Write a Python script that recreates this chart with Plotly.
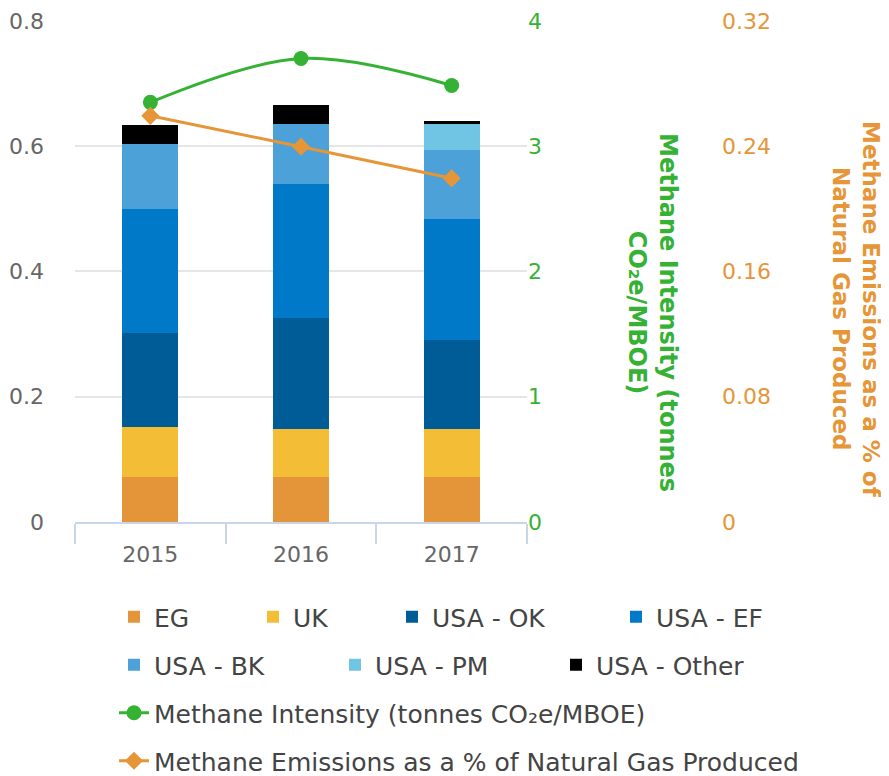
import plotly.graph_objects as go

years = ["2015", "2016", "2017"]
eg = [0.072, 0.072, 0.072]
uk = [0.079, 0.077, 0.077]
usa_ok = [0.151, 0.176, 0.141]
usa_ef = [0.198, 0.214, 0.194]
usa_bk = [0.103, 0.096, 0.110]
usa_pm = [0.0, 0.0, 0.041]
usa_other = [0.031, 0.030, 0.005]
intensity = [3.35, 3.70, 3.485]
emissions_pct = [0.2594, 0.2397, 0.2195]

FONT = "DejaVu Sans"
GREEN = "#35B234"
ORANGE = "#E69537"
W, H = 881, 768          # page body has an 8px margin
TOP, BOT = 12, 514       # plot area in figure px
PH = BOT - TOP

def py(page_y):
    return (BOT - (page_y - 8)) / PH

def px(page_x):
    return (page_x - 8) / W

fig = go.Figure()
bars = [
    ("EG", eg, "#E4953A", "legend"),
    ("UK", uk, "#F3BE35", "legend"),
    ("USA - OK", usa_ok, "#005C97", "legend2"),
    ("USA - EF", usa_ef, "#0079C8", "legend2"),
    ("USA - BK", usa_bk, "#4BA1D8", "legend3"),
    ("USA - PM", usa_pm, "#70C5E5", "legend3"),
    ("USA - Other", usa_other, "#000000", "legend3"),
]
for name, vals, col, lg in bars:
    fig.add_trace(go.Bar(x=years, y=vals, name=name, marker=dict(color=col, line=dict(width=0)),
                         width=0.37, legend=lg))

fig.add_trace(go.Scatter(x=years, y=intensity, name="Methane Intensity (tonnes CO₂e/MBOE)",
                         mode="lines+markers", line=dict(color=GREEN, width=3, shape="spline"),
                         marker=dict(symbol="circle", size=15, color=GREEN), yaxis="y2", legend="legend4"))
fig.add_trace(go.Scatter(x=years, y=emissions_pct, name="Methane Emissions as a % of Natural Gas Produced",
                         mode="lines+markers", line=dict(color=ORANGE, width=3),
                         marker=dict(symbol="diamond", size=14, color=ORANGE), yaxis="y3", legend="legend5"))

legfont = dict(family=FONT, size=25, color="#444")
tickfont = dict(family=FONT, size=22, color="#666")

def leg(x, y, **kw):
    d = dict(orientation="h", x=x, y=y, yanchor="middle", xanchor="left", font=legfont,
             traceorder="normal", bgcolor="rgba(0,0,0,0)")
    d.update(kw)
    return d

fig.update_layout(
    width=W, height=H,
    margin=dict(l=0, r=0, t=TOP, b=H - BOT, autoexpand=False),
    plot_bgcolor="white", paper_bgcolor="white",
    barmode="stack",
    font=dict(family=FONT, color="#666"),
    xaxis=dict(domain=[px(75), px(527)], showline=True, linecolor="#C9D5E8", linewidth=2,
               ticks="outside", tickson="boundaries", ticklen=20, tickcolor="#C9D5E8", tickwidth=2,
               tickfont=tickfont, showgrid=False, ticklabelstandoff=12, automargin=False),
    yaxis=dict(range=[0, 0.8015], tickvals=[0, 0.2, 0.4, 0.6, 0.8], ticktext=["0", "0.2", "0.4", "0.6", "0.8"],
               showgrid=True, gridcolor="#E6E6E6", gridwidth=2, zeroline=False, automargin=False,
               tickfont=tickfont, ticklabelstandoff=30),
    yaxis2=dict(range=[0, 4.0075], tickvals=[0, 1, 2, 3, 4], overlaying="y", side="right", anchor="x",
                showgrid=False, zeroline=False, automargin=False,
                tickfont=dict(family=FONT, size=22, color=GREEN)),
    yaxis3=dict(range=[0, 0.3206], tickvals=[0, 0.08, 0.16, 0.24, 0.32], ticktext=["0", "0.08", "0.16", "0.24", "0.32"],
                overlaying="y", side="right", anchor="free", position=px(721), automargin=False,
                showgrid=False, zeroline=False, tickfont=dict(family=FONT, size=22, color=ORANGE)),
    legend=leg(px(154 - 40), py(617), entrywidth=94),
    legend2=leg(px(432 - 40), py(617), entrywidth=179),
    legend3=leg(px(154 - 40), py(665), entrywidth=176),
    legend4=leg(px(154 - 40), py(713)),
    legend5=leg(px(154 - 40), py(761)),
    annotations=[
        dict(text="<b>Methane Intensity (tonnes<br>CO₂e/MBOE)</b>", x=px(652), y=py(312),
             xref="paper", yref="paper", xanchor="center", yanchor="middle", textangle=90, showarrow=False,
             font=dict(family=FONT, size=24, color=GREEN), align="center"),
        dict(text="<b>Methane Emissions as a % of<br>Natural Gas Produced</b>", x=px(856), y=py(309),
             xref="paper", yref="paper", xanchor="center", yanchor="middle", textangle=90, showarrow=False,
             font=dict(family=FONT, size=23, color=ORANGE), align="center"),
    ],
)

fig.write_html("out.html")
